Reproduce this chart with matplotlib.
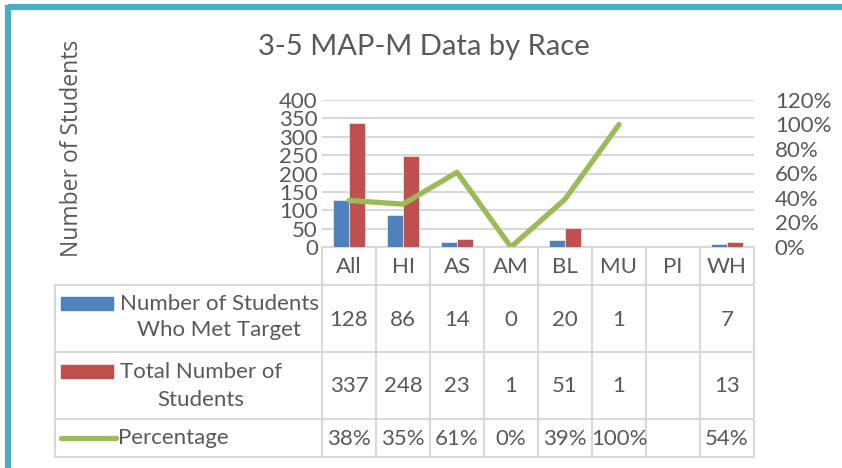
import numpy as np
import matplotlib
matplotlib.use("Agg")
import matplotlib.pyplot as plt
from matplotlib.lines import Line2D
from matplotlib.patches import Rectangle

# data
races = ["All", "HI", "AS", "AM", "BL", "MU", "PI", "WH"]
met_target = [128, 86, 14, 0, 20, 1, None, 7]
total_students = [337, 248, 23, 1, 51, 1, None, 13]
percentage = [0.38, 0.35, 0.61, 0.00, 0.39, 1.00, None, 0.54]

series_names = ["Number of Students\nWho Met Target", "Total Number of\nStudents", "Percentage"]
left_ticks = [0, 50, 100, 150, 200, 250, 300, 350, 400]
right_ticks = [0, 0.2, 0.4, 0.6, 0.8, 1.0, 1.2]

BLUE = "#4f81bd"
RED = "#c0504d"
GREEN = "#9bbb59"
GRID = "#d9d9d9"
TXT = "#595959"
FRAME = "#4bacc6"

plt.rcParams["font.family"] = ["Lato", "DejaVu Sans"]

W, H = 842, 468
fig = plt.figure(figsize=(W / 100, H / 100), dpi=100)

# overlay in pixel coords for the frame and the data table
ov = fig.add_axes([0, 0, 1, 1])
ov.set_xlim(0, W)
ov.set_ylim(H, 0)
ov.axis("off")

# plot area
px0, px1, py0, py1 = 322, 754, 100, 247
ax = fig.add_axes([px0 / W, 1 - py1 / H, (px1 - px0) / W, (py1 - py0) / H])
ax.set_zorder(2)
ax.patch.set_alpha(0)

def num(v):
    return np.nan if v is None else v

x = np.arange(len(races))
met = np.array([num(v) for v in met_target], dtype=float)
tot = np.array([num(v) for v in total_students], dtype=float)
pct = np.array([num(v) for v in percentage], dtype=float)

bw = 0.3
ax.bar(x - bw / 2, np.nan_to_num(met), bw, color=BLUE, edgecolor="white", linewidth=0.4, zorder=3)
ax.bar(x + bw / 2, np.nan_to_num(tot), bw, color=RED, edgecolor="white", linewidth=0.4, zorder=3)
ax.set_xlim(-0.5, len(races) - 0.5)
ax.set_ylim(0, 400)
ax.set_yticks(left_ticks)
ax.yaxis.grid(True, color=GRID, linewidth=1.5)
ax.set_axisbelow(True)
ax.set_xticks([])
for s in ax.spines.values():
    s.set_visible(False)
ax.tick_params(axis="y", length=0, pad=3, labelsize=16, labelcolor=TXT)

ax2 = ax.twinx()
ax2.plot(x, pct, color=GREEN, linewidth=3.8, solid_capstyle="round", solid_joinstyle="round", zorder=4)
ax2.set_ylim(0, 1.2)
ax2.set_yticks(right_ticks)
ax2.set_yticklabels([f"{t:.0%}" for t in right_ticks])
ax2.tick_params(axis="y", length=0, pad=15, labelsize=16, labelcolor=TXT)
for s in ax2.spines.values():
    s.set_visible(False)

# title and axis title
ov.text(424, 47, "3-5 MAP-M Data by Race", ha="center", va="center", fontsize=21, color=TXT)
ov.text(72, 148, "Number of Students", rotation=90, ha="center", va="center",
        fontsize=16.5, color=TXT, family=["Open Sans", "DejaVu Sans"])

# data table
tx0 = 55
cw = (px1 - px0) / len(races)
rows_y = [py1, 285, 352, 419, 457]
lw = 1.5
# horizontal rules
ov.add_line(Line2D([px0, px1], [py1, py1], color=GRID, lw=lw))
for yy in rows_y[1:]:
    ov.add_line(Line2D([tx0, px1], [yy, yy], color=GRID, lw=lw))
# vertical rules
for i in range(len(races) + 1):
    xx = px0 + i * cw
    ov.add_line(Line2D([xx, xx], [py1, rows_y[-1]], color=GRID, lw=lw))
ov.add_line(Line2D([tx0, tx0], [rows_y[1], rows_y[-1]], color=GRID, lw=lw))

fs = 16
for i, r in enumerate(races):
    cx = px0 + (i + 0.5) * cw
    ov.text(cx, (rows_y[0] + rows_y[1]) / 2 + 1, r, ha="center", va="center", fontsize=fs, color=TXT)
    rows = [
        "" if met_target[i] is None else str(met_target[i]),
        "" if total_students[i] is None else str(total_students[i]),
        "" if percentage[i] is None else f"{percentage[i]:.0%}",
    ]
    for j, t in enumerate(rows):
        ov.text(cx, (rows_y[j + 1] + rows_y[j + 2]) / 2 + 1, t, ha="center", va="center",
                fontsize=fs, color=TXT)

# legend keys and series names
ov.add_patch(Rectangle((61, 297), 52, 13, color=BLUE))
ov.text(219, 317, series_names[0], ha="center", va="center", fontsize=fs, color=TXT, linespacing=1.4)
ov.add_patch(Rectangle((61, 365), 52, 13, color=RED))
ov.text(201, 386, series_names[1], ha="center", va="center", fontsize=fs, color=TXT, linespacing=1.45)
ov.add_line(Line2D([61, 116], [438, 438], color=GREEN, lw=3.8, solid_capstyle="round"))
ov.text(118, 438, series_names[2], ha="left", va="center", fontsize=fs, color=TXT)

# outer frame (top and left edges)
ov.add_line(Line2D([8, W], [7, 7], color=FRAME, lw=4.5, solid_capstyle="butt"))
ov.add_line(Line2D([8, 8], [5, H], color=FRAME, lw=4.5, solid_capstyle="butt"))

fig.savefig("out.png", dpi=100)
